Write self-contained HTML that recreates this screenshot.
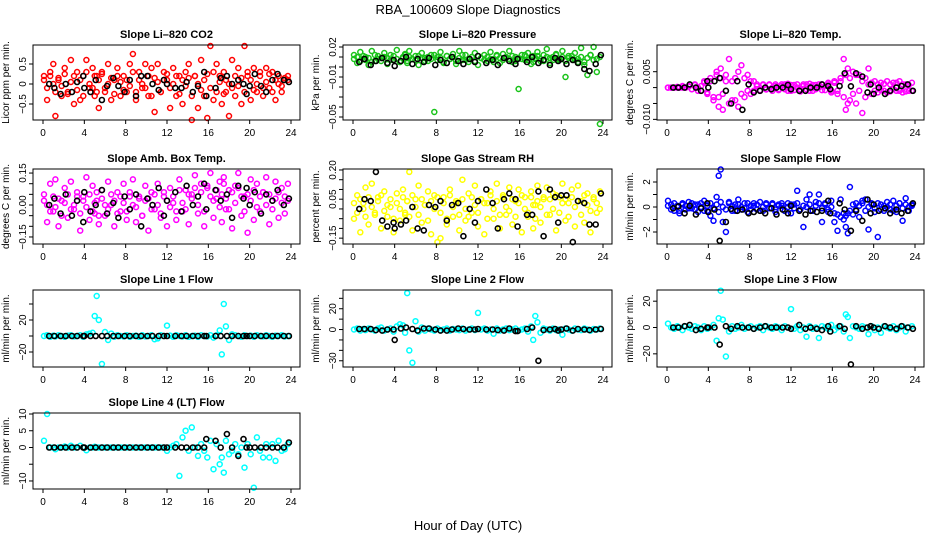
<!DOCTYPE html>
<html><head><meta charset="utf-8"><style>
html,body{margin:0;padding:0;background:#fff}
svg{display:block;font-family:"Liberation Sans",sans-serif}
</style></head><body>
<svg id="c" width="936" height="540" viewBox="0 0 936 540">
<text x="468" y="14" text-anchor="middle" font-size="13">RBA_100609  Slope Diagnostics</text>
<text x="468" y="530" text-anchor="middle" font-size="13">Hour of Day (UTC)</text>
</svg>
<script>
const hours=[0.1,0.4,0.7,1.0,1.2,1.5,1.8,2.1,2.4,2.7,3.0,3.3,3.6,3.9,4.2,4.5,4.8,5.0,5.2,5.4,5.7,6.0,6.3,6.6,6.9,7.2,7.5,7.8,8.1,8.4,8.7,9.0,9.3,9.6,9.9,10.2,10.5,10.8,11.1,11.4,11.7,12.0,12.3,12.6,12.9,13.2,13.5,13.8,14.1,14.4,14.7,15.0,15.3,15.6,15.9,16.2,16.5,16.8,17.1,17.3,17.5,17.7,18.0,18.3,18.6,18.9,19.2,19.5,19.8,20.1,20.4,20.7,21.0,21.3,21.6,21.9,22.2,22.5,22.8,23.1,23.4,23.7];
const blackHours=[0.6,1.1,1.7,2.2,2.8,3.3,3.9,4.0,4.6,5.1,5.7,6.2,6.8,7.3,7.9,8.4,9.0,9.5,10.1,10.6,11.2,11.7,12.0,12.8,13.4,13.9,14.5,15.0,15.6,15.8,16.7,17.2,17.8,18.3,18.9,19.4,19.7,20.0,20.5,21.1,21.6,22.2,22.7,23.3,23.8];
const xTicks=[0,4,8,12,16,20,24];

const co2A=[0.2,-0.4,0.3,0.5,-0.8,0.1,-0.3,0.4,-0.2,0.6,-0.5,0.3,-0.4,0.2,0.6,-0.1,0.4,-0.3,0.2,-0.6,0.3,-0.2,0.5,-0.4,0.1,0.4,-0.3,0.2,-0.2,0.5,0.75,-0.4,0.3,-0.1,0.5,-0.3,0.4,-0.7,0.5,-0.2,0.3,0.1,-0.6,0.4,-0.3,0.2,-0.5,0.3,0.5,-0.9,0.2,-0.6,0.6,-0.3,-0.85,0.95,-0.4,0.5,0.2,-0.5,0.3,-0.2,-0.8,0.6,-0.3,0.4,-0.5,0.95,0.2,-0.4,0.4,-0.2,0.3,-0.3,0.4,-0.1,0.3,-0.4,0.2,-0.2,0.1,0.2];
const co2B=[0.1,-0.1,0.2,0,-0.2,0.15,-0.05,0.25,-0.25,0.05,0.2,-0.15,0.1,-0.3,0.3,0,-0.1,0.2,-0.2,0.1,0.25,-0.1,0,0.15,-0.25,0.2,0.05,-0.15,0.1,-0.05,0.3,-0.2,0.1,0,-0.1,0.2,-0.3,0.15,0.05,-0.2,0.1,0.25,-0.1,0,0.2,-0.25,0.1,-0.05,0.15,-0.3,0.2,0,-0.15,0.1,0.25,-0.1,0.3,-0.2,0.05,0.15,-0.25,0.1,0,-0.1,0.2,-0.05,0.15,-0.2,0.3,0.1,-0.15,0,0.2,-0.1,0.05,0.25,-0.2,0.1,0,-0.05,0.15,0.1];
const co2K=[0.0,-0.1,-0.25,0.0,-0.2,0.05,0.2,-0.1,-0.2,0.1,-0.4,-0.05,0.15,-0.05,-0.2,0.1,-0.3,0.2,0.2,0.0,-0.15,0.1,0.0,-0.1,-0.1,0.05,-0.2,-0.05,0.3,-0.3,-0.1,0.15,0.2,0.0,0.1,0.0,-0.25,-0.05,0.25,-0.05,-0.2,0.1,0.25,0.1,0.05];

const presA=[0.012,0.004,0.015,0.008,0.010,0.002,0.016,0.006,0.011,0.009,0.014,0.003,0.012,0.007,0.017,0.005,0.010,0.013,0.004,0.016,0.008,0.011,0.002,0.014,0.009,0.006,0.012,-0.045,0.010,0.015,0.004,0.011,0.008,0.013,0.003,0.016,0.007,0.012,0.005,0.010,0.014,0.002,0.009,0.012,0.006,0.015,0.008,0.011,0.004,0.013,0.009,0.016,0.005,0.010,-0.022,0.012,0.007,0.014,0.003,0.011,0.008,0.015,0.006,0.012,0.018,0.004,0.010,0.013,0.007,0.016,-0.010,0.011,0.008,0.014,0.005,0.019,0.002,-0.008,0.012,0.020,-0.005,-0.057];
const presB=[0.008,0.010,0.006,0.011,0.007,0.009,0.005,0.012,0.008,0.006,0.010,0.009,0.007,0.011,0.008,0.005,0.009,0.012,0.006,0.010,0.008,0.007,0.011,0.009,0.006,0.010,0.008,0.012,0.007,0.009,0.005,0.011,0.008,0.010,0.006,0.009,0.012,0.007,0.008,0.010,0.006,0.011,0.009,0.007,0.010,0.008,0.005,0.012,0.009,0.007,0.010,0.008,0.011,0.006,0.009,0.008,0.012,0.007,0.010,0.005,0.009,0.011,0.008,0.006,0.010,0.009,0.007,0.012,0.008,0.010,0.006,0.009,0.011,0.007,0.008,0.010,0.005,0.009,0.012,0.007,0.008,0.010];
const presK=[0.005,0.008,0.002,0.006,0.009,0.004,0.007,0.001,0.006,0.010,0.003,0.008,0.005,0.009,0.002,0.007,0.004,0.010,0.006,0.003,0.008,0.005,0.011,0.004,0.007,0.002,0.009,0.006,0.003,0.008,0.005,0.010,0.004,0.007,0.002,0.009,0.006,0.008,0.003,0.007,0.004,-0.002,-0.004,0.003,0.012];

const tempA=[0,0,0,0.0002,0,0.0005,0,0.0003,-0.0005,0.0008,0,-0.001,0.002,-0.002,0.003,-0.004,0.004,-0.006,0.006,-0.007,0.002,0.009,-0.004,0.003,-0.006,0.007,-0.003,0.004,-0.002,0.002,0.001,-0.001,0.0008,-0.0006,0.001,0,0.0005,-0.0008,0.001,-0.0005,0.0012,-0.001,0.0008,0,-0.0012,0.001,-0.0005,0.0012,-0.001,0.0008,0,0.001,-0.0008,0.0015,-0.001,0.002,-0.002,0.003,0.009,-0.007,0.006,-0.004,0.005,-0.005,0.004,-0.008,0.003,0.006,-0.002,0.002,-0.0015,0.0015,-0.001,0.002,-0.0012,0.0015,-0.001,0.002,-0.0015,0.001,-0.001,0.0015];
const tempB=[0,0,0,0,0,0,0,0.0005,-0.0005,0.001,-0.001,0.0005,0.0015,-0.0015,0.002,-0.003,0.005,-0.003,0.003,-0.002,0.004,-0.005,0.002,-0.004,0.005,-0.002,0.003,-0.001,0.002,-0.001,0.0005,-0.0008,0.001,-0.0005,0.0008,-0.001,0.001,-0.0005,0.0005,0.001,-0.001,0.0008,-0.0008,0.001,-0.0005,0.0005,0.001,-0.001,0.0008,-0.0005,0.001,-0.0008,0.0005,0.001,-0.0015,0.0015,-0.001,0.002,-0.003,0.004,-0.005,0.003,-0.002,0.004,-0.001,0.002,-0.003,0.001,0.0015,-0.001,0.001,-0.0008,0.0012,-0.0015,0.001,-0.0005,0.0015,-0.001,0.001,-0.0012,0.0008,-0.001];
const tempK=[0,0,0,0.001,0,-0.001,0.002,0,0.002,0.003,-0.001,-0.005,0.002,-0.007,0.001,-0.0015,-0.001,0,-0.0005,0,0,0.0008,-0.0005,-0.001,-0.001,0,0,0.001,0.0005,-0.0005,0.0005,0.0045,0.0004,0.0045,0.0035,-0.0015,0.001,-0.002,0,-0.002,-0.001,0,0.0005,0.001,-0.001];

const ambA=[0.05,-0.08,0.1,-0.03,0.12,-0.1,0.02,0.08,-0.06,0.11,-0.02,0.06,-0.12,0.04,0.13,-0.07,0.09,-0.04,0.02,-0.09,0.07,-0.05,0.11,0.0,-0.1,0.06,-0.03,0.1,-0.07,0.04,0.12,-0.08,0.03,-0.05,0.09,-0.12,0.06,-0.02,0.1,-0.06,0.04,-0.1,0.08,0.01,-0.07,0.12,-0.03,0.07,-0.09,0.05,0.14,-0.04,0.1,-0.1,0.08,0.15,-0.06,0.03,0.11,-0.08,0.13,-0.02,0.07,-0.11,0.09,0.15,-0.05,0.04,-0.13,0.12,-0.07,0.1,-0.03,0.06,0.13,-0.09,0.02,0.11,-0.06,0.08,-0.04,0.1];
const ambB=[0.02,0.0,-0.03,0.04,-0.01,0.03,-0.05,0.01,0.05,-0.02,0.0,0.04,-0.04,0.02,-0.01,0.05,-0.03,0.01,0.06,-0.05,0.03,0.0,-0.02,0.05,0.02,-0.04,0.04,0.01,-0.03,0.06,0.0,-0.01,0.04,-0.05,0.02,0.03,-0.02,0.05,0.0,-0.04,0.06,0.02,-0.01,0.04,-0.03,0.07,0.01,-0.02,0.05,0.03,0.08,0.0,0.06,-0.03,0.09,0.04,0.02,0.07,-0.01,0.05,0.1,0.03,-0.02,0.06,0.01,0.08,0.04,-0.03,0.05,0.02,0.07,-0.01,0.04,0.06,0.0,0.05,-0.02,0.03,0.06,0.01,0.04,0.02];
const ambK=[0.0,0.03,-0.04,0.05,-0.05,0.02,-0.08,0.06,-0.03,0.0,0.07,-0.04,0.01,-0.06,0.04,-0.02,0.05,-0.1,0.03,0.0,0.08,-0.05,0.02,0.06,-0.03,0.09,0.0,0.04,0.1,-0.02,0.07,0.02,0.05,-0.06,0.09,0.03,0.08,0.0,0.06,-0.04,0.05,0.02,0.07,0.0,0.03];

const rhA=[-0.05,0.07,-0.12,0.03,0.11,-0.08,0.13,-0.02,0.06,-0.1,0.09,-0.04,0.01,-0.12,0.08,-0.06,0.1,-0.03,0.04,0.19,-0.11,0.05,0.12,-0.07,0.02,0.09,-0.13,0.07,-0.17,-0.15,0.06,-0.08,0.1,-0.04,0.03,-0.11,0.15,-0.06,0.08,-0.02,0.12,-0.09,0.05,-0.13,0.03,0.09,-0.05,0.13,-0.1,0.07,-0.03,0.11,-0.08,0.04,0.1,-0.12,0.06,-0.04,0.09,-0.1,0.02,0.12,-0.07,0.05,0.11,-0.03,0.08,-0.11,0.06,0.13,-0.06,0.03,0.1,-0.09,0.12,0.04,-0.07,0.08,-0.12,0.06,-0.02,0.09];
const rhB=[0.03,-0.02,0.05,0.0,-0.04,0.06,0.01,-0.03,0.04,0.07,-0.01,0.02,0.05,-0.05,0.03,0.0,0.06,-0.02,0.04,-0.04,0.07,0.01,-0.03,0.05,0.02,-0.06,0.04,0.0,0.06,-0.02,0.03,-0.05,0.07,0.01,0.04,-0.03,0.05,0.0,-0.04,0.06,0.02,-0.02,0.05,0.03,-0.05,0.07,0.0,0.04,-0.03,0.06,0.01,-0.01,0.05,-0.04,0.03,0.07,0.0,-0.02,0.06,0.02,-0.05,0.04,0.01,0.06,-0.03,0.05,0.0,0.07,-0.02,0.03,0.05,-0.04,0.06,0.01,0.04,-0.03,0.07,0.02,-0.01,0.05,0.03,0.0];
const rhK=[0.0,0.05,0.04,0.19,-0.06,-0.09,-0.07,-0.1,-0.08,-0.06,0.01,-0.1,-0.11,0.02,0.01,0.04,-0.06,0.02,0.03,-0.14,0.0,-0.07,0.04,0.1,0.03,-0.1,0.05,0.08,0.05,-0.09,-0.03,-0.03,0.09,-0.14,0.1,0.06,-0.07,0.07,0.07,-0.17,0.04,0.03,-0.08,-0.08,0.08];

const sfA=[0.5,0.2,-0.3,0.1,-0.5,0.3,-0.2,0.4,-0.1,0.2,-0.4,0.3,0.5,-0.3,-0.7,-1.1,0.8,2.5,3.0,-1.2,-2.0,0.4,-0.3,0.2,0.6,-0.2,0.3,-0.4,0.1,0.3,-0.2,0.4,-0.3,0.2,-0.1,0.3,-0.4,0.2,0.1,-0.3,0.3,-0.5,0.2,1.3,-0.2,-1.6,0.6,1.0,-0.3,0.4,1.0,-1.2,0.3,-0.4,0.5,-1.2,-1.9,0.6,-0.5,-1.6,-2.1,1.6,-0.6,0.3,-0.8,0.5,0.6,-1.8,0.3,-0.4,-2.4,0.2,-0.3,0.4,-0.2,0.5,-0.4,0.3,-1.1,0.7,-0.3,0.2];
const sfB=[0.1,-0.2,0.3,0,-0.3,0.2,0.1,-0.1,0.3,-0.2,0.2,0,-0.3,0.1,0.3,-0.1,0.2,-0.4,0.4,0,-0.2,0.3,0.1,-0.3,0.2,0,-0.1,0.3,-0.2,0.1,0.2,-0.3,0,0.3,-0.1,0.2,-0.2,0.1,0.3,-0.3,0,0.2,-0.1,0.3,-0.2,0.1,0,0.2,-0.3,0.1,0.3,-0.1,0.2,-0.2,0,-0.5,-0.6,-0.8,-1.0,-0.7,-0.5,-0.3,0.2,-0.2,0.1,0.3,-0.3,0,0.2,-0.1,0.3,-0.2,0.1,0,0.2,-0.3,0.1,0.3,-0.1,0.2,0,0.1];
const sfK=[-0.1,0.05,-0.5,0.1,-0.6,-0.1,0.3,-0.4,-0.2,-2.7,-1.2,-0.15,-0.3,-0.2,-0.5,-0.4,-0.3,-0.5,-0.1,-0.6,-0.2,-0.5,0.1,-0.3,-0.6,-0.3,-0.4,-0.3,0.5,-0.5,0.3,-0.2,-1.9,-0.3,-1.1,0.6,-0.5,0.2,-0.3,-0.1,-0.5,-0.2,-0.5,-0.3,0.3];

const l1A=[0,1,-1,0.5,-0.5,1,0,-1,0.5,1,-0.5,0,1,-1,2,3,4,25,50,20,-35,5,-5,3,-1,1,0,-0.5,1,-1,0,0.5,-1,1,-0.5,0,1,-4,-3,1,0,13,0.5,-1,1,0,-0.5,1,-1,0,0.5,-1,1,0,-0.5,1,-2,1,7,-23,40,12,-5,2,1,0,-1,1,0,0.5,-1,1,0,-0.5,1,0,-1,0.5,0,1,-0.5,0];
const l1K=[0,0,0,0,0,0,0,0,0,0,0,0,0,0,0,0,0,0,0,0,0,0,0,0,0,0,0,0,0,0,0,0,0,0,0,0,0,0,0,0,0,0,0,0,0];
const l2A=[0,1,-1,0.5,-0.5,1,0,-1,1,2,-1,0,1,-2,3,5,4,-3,35,-20,-32,8,-2,2,-1,1,0,-1,1,-0.5,0,1,-1,0.5,0,-0.5,1,-1,0,1,-0.5,16,0,1,-1,0,-4,1,-1,0,1,-0.5,0,1,-1,0,1,-2,3,-10,13,7,-3,1,0,-1,1,-0.5,0,-5,1,0,-1,1,0,-0.5,1,0,-1,0.5,0,1];
const l2K=[0.5,0.5,0.5,-0.5,-1,0,0,-10,1,2,0.5,-1,1,1,0,-1,-1,0,1,0.5,0,0,0.5,0,0,-0.5,-1,1,-1.5,-1.5,0.5,2,-30,-0.5,0,0.5,-1,0,1,-1,0.5,0,-0.5,0,0.5];
const l3A=[3,0,-1,1,0,-2,1,0,-1,1,0,-2,1,-1,0,2,-10,7,28,6,-22,-3,1,-1,0,2,-1,0,1,-1,0,1,-2,1,0,-1,1,0,-2,1,0,14,-1,1,-2,0,-7,1,-1,0,-8,1,0,-1,2,-2,0,1,-3,10,8,-8,1,0,-1,1,0,-5,1,-2,0,-4,1,0,-1,1,-2,0,1,-3,0,1];
const l3K=[0,0,1,2,-2,-1,0,0,0,-13,1,-1,1,0,0,-1,0,1,0,0,0,0,-1,2,-1,0,-1,-2,1,-3,1,-1,-28,1,-1,0,1,0,-1,1,0,-1,1,0,-1];
const l4A=[2,10,0,0,-0.5,0,0,0.3,0,0.5,0,0,0.5,0,-0.8,0,0,0.2,0,0,0,0,0,0,0,0,0,0,0,0,0,0,0,0,0,0,0,0,0,0,0,-1,0,0.5,1,-8.5,3,5,-1,6,0,-2.5,1,-1,-3,2,-6.5,1,-5,-3,-7.5,2,-2,-1,1,-2,0,-6,1,-2,-12,3,-1,-3,1,-3,1,-4,2,-1,-0.5,1];
const l4K=[0,0,0,0,0,0,0,0,0,0,0,0,0,0,0,0,0,0,0,0,0,0,0,0,0,0,0,0,0,2.5,2,0,4,0,-2.5,2.5,0,0,0,0,0,0,0,0,1.5];

const panels=[
 {name:"co2",title:"Slope Li\u2013820 CO2",ylab:"Licor ppm per min.",col:0,row:0,dom:[-0.9,0.975],ticks:[-0.5,0,0.5],labels:["\u22120.5","0","0.5"],color:"#ff0000",sets:[co2A,co2B],black:co2K},
 {name:"pressure",title:"Slope Li\u2013820 Pressure",ylab:"kPa per min.",col:1,row:0,dom:[-0.053,0.022],ticks:[-0.05,-0.04,-0.03,-0.02,-0.01,0,0.01,0.02],labels:["\u22120.05","","","","\u22120.01","","","0.02"],color:"#19c319",sets:[presA,presB],black:presK},
 {name:"temp",title:"Slope Li\u2013820 Temp.",ylab:"degrees C per min.",col:2,row:0,dom:[-0.0102,0.0134],ticks:[-0.01,-0.005,0,0.005],labels:["\u22120.010","","","0.005"],color:"#ff00ff",sets:[tempA,tempB],black:tempK},
 {name:"amb-box-temp",title:"Slope Amb. Box Temp.",ylab:"degrees C per min.",col:0,row:1,dom:[-0.183,0.169],ticks:[-0.15,-0.1,-0.05,0,0.05,0.1,0.15],labels:["\u22120.15","","","0.00","","","0.15"],color:"#ff00ff",sets:[ambA,ambB],black:ambK},
 {name:"gas-rh",title:"Slope Gas Stream RH",ylab:"percent per min.",col:1,row:1,dom:[-0.18,0.205],ticks:[-0.15,-0.1,-0.05,0,0.05,0.1,0.15,0.2],labels:["\u22120.15","","","","0.05","","","0.20"],color:"#ffff00",sets:[rhA,rhB],black:rhK},
 {name:"sample-flow",title:"Slope Sample Flow",ylab:"ml/min per min.",col:2,row:1,dom:[-2.96,3.04],ticks:[-2,-1,0,1,2],labels:["\u22122","","0","","2"],color:"#0000ff",sets:[sfA,sfB],black:sfK},
 {name:"line1-flow",title:"Slope Line 1 Flow",ylab:"ml/min per min.",col:0,row:2,dom:[-38.75,57.5],ticks:[-20,0,20,40],labels:["\u221220","","20",""],color:"#00ffff",sets:[l1A],black:l1K},
 {name:"line2-flow",title:"Slope Line 2 Flow",ylab:"ml/min per min.",col:1,row:2,dom:[-36,38],ticks:[-30,-20,-10,0,10,20,30],labels:["\u221230","","","0","","20",""],color:"#00ffff",sets:[l2A],black:l2K},
 {name:"line3-flow",title:"Slope Line 3 Flow",ylab:"ml/min per min.",col:2,row:2,dom:[-30,28.5],ticks:[-20,0,20],labels:["\u221220","0","20"],color:"#00ffff",sets:[l3A],black:l3K},
 {name:"line4-flow",title:"Slope Line 4 (LT) Flow",ylab:"ml/min per min.",col:0,row:3,dom:[-12.4,10.3],ticks:[-10,-5,0,5,10],labels:["\u221210","","0","5","10"],color:"#00ffff",sets:[l4A],black:l4K}
];
const colX=[[33,300],[343,612],[657,924]];
const rowY=[[45,120],[169,244],[290,367],[413,489]];
const NS="http://www.w3.org/2000/svg";
const svg=document.getElementById('c');
function mk(tag,attrs,parent){const e=document.createElementNS(NS,tag);for(const k in attrs)e.setAttribute(k,attrs[k]);parent.appendChild(e);return e;}

panels.forEach(p=>{
 const [L,R]=colX[p.col],[T,B]=rowY[p.row];
 const xs=h=>(L+10)+h/24*((R-9)-(L+10));
 const ys=v=>B-(v-p.dom[0])/(p.dom[1]-p.dom[0])*(B-T);
 const g=mk('g',{},svg);
 
 
 const t=mk('text',{x:(L+R)/2,y:T-7,'text-anchor':'middle','font-size':11,'font-weight':'bold'},g);
 t.textContent=p.title;
 
 
 const pg=mk('g',{fill:'none','stroke-width':1.5},g);
 
 
 p.sets.forEach(arr=>{
  const n=Math.min(arr.length,hours.length);
  for(let i=0;i<n;i++){
   const y=ys(arr[i]);
   const c=mk('circle',{cx:xs(hours[i]).toFixed(1),cy:y.toFixed(1),r:2.5,stroke:p.color},pg);
   
   
  }
 });
 const kg=mk('g',{fill:'none','stroke-width':1.6,stroke:'#000'},g);
 
 
 const n=Math.min(p.black.length,blackHours.length);
 for(let i=0;i<n;i++){
  const c=mk('circle',{cx:xs(blackHours[i]).toFixed(1),cy:ys(p.black[i]).toFixed(1),r:2.5},kg);
  
  
 }
 const box=mk('rect',{x:L,y:T,width:R-L,height:B-T,fill:'none',stroke:'#000','stroke-width':1},g);
 
 
 const xa=mk('g',{'font-size':10,'text-anchor':'middle'},g);
 
 
 xTicks.forEach(v=>{
  const x=xs(v);
  mk('line',{x1:x,x2:x,y1:B,y2:B+4,stroke:'#000'},xa);
  const tx=mk('text',{x:x,y:B+16},xa);
  tx.textContent=String(v);
  
  
 });
 const ya=mk('g',{'font-size':10,'text-anchor':'middle'},g);
 
 
 p.ticks.forEach((v,i)=>{
  const y=ys(v);
  mk('line',{x1:L-4,x2:L,y1:y,y2:y,stroke:'#000'},ya);
  if(p.labels[i]){
   const tx=mk('text',{x:L-7,y:y,transform:`rotate(-90 ${L-7} ${y})`},ya);
   tx.textContent=p.labels[i];
   
   
  }
 });
 const yl=mk('text',{x:L-24,y:(T+B)/2,'font-size':10,'text-anchor':'middle',transform:`rotate(-90 ${L-24} ${(T+B)/2})`},g);
 yl.textContent=p.ylab;
 
 
});
</script>
</body></html>
